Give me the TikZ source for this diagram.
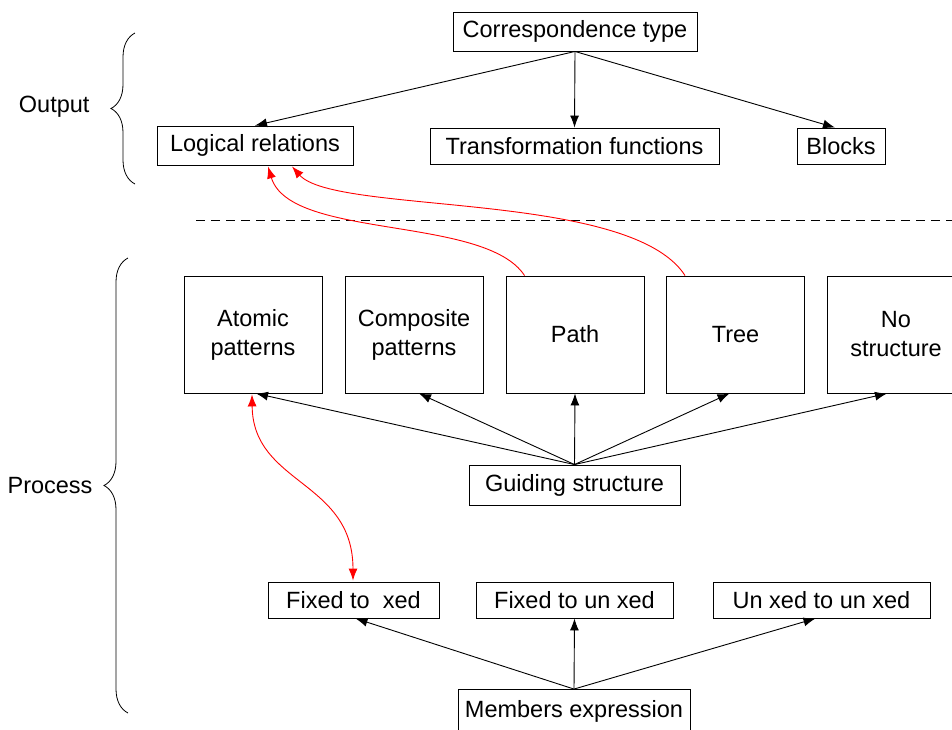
\documentclass[tikz,border=0pt]{standalone}
\usepackage{fontspec}
\setmainfont{Liberation Sans}
\usetikzlibrary{arrows.meta,decorations.pathreplacing,calc}
\begin{document}
\begin{tikzpicture}[x=1pt,y=-1pt,
  box/.style={draw,line width=0.9pt,inner sep=0pt,font=\fontsize{23.5}{29}\selectfont,align=center},
  arr/.style={line width=0.9pt,-{Latex[length=12pt,width=9pt]}},
  red arr/.style={draw=red,line width=0.9pt,-{Latex[length=12pt,width=9pt]}},
  lbl/.style={font=\fontsize{23.5}{29}\selectfont},
  brc/.style={decorate,decoration={brace,amplitude=24pt},line width=0.8pt}
]
\useasboundingbox (0,0) rectangle (952,729);
% Output level
\node[box,minimum width=244pt,minimum height=39pt] (corr) at (575,31.5) {Correspondence type};
\node[box,minimum width=196pt,minimum height=39pt] (logic) at (255,145.5) {Logical relations};
\node[box,minimum width=289pt,minimum height=36pt] (trans) at (574.5,146) {Transformation functions};
\node[box,minimum width=88pt,minimum height=36pt] (blocks) at (841,146) {Blocks};
\draw[arr] (corr.south) -- (logic.north);
\draw[arr] (corr.south) -- (trans.north);
\draw[arr] (corr.south) -- ($(blocks.north)+(-6,0)$);
% separator
\coordinate (sepL) at (196,220);
\coordinate (sepR) at (952,220);
\draw[dashed,dash pattern=on 9pt off 6pt,line width=0.8pt] (sepL) -- (sepR);
% Guiding structure level
\node[box,minimum width=138pt,minimum height=117pt] (atomic) at (253,334.5) {Atomic\\patterns};
\node[box,minimum width=138pt,minimum height=117pt] (comp) at (414,334.5) {Composite\\patterns};
\node[box,minimum width=138pt,minimum height=117pt] (path) at (575,334.5) {Path};
\node[box,minimum width=138pt,minimum height=117pt] (tree) at (735.5,334.5) {Tree};
\node[box,minimum width=138pt,minimum height=117pt] (nostr) at (896,334.5) {No\\structure};
\node[box,minimum width=211pt,minimum height=40pt] (guide) at (574.5,485) {Guiding structure};
\draw[arr] (guide.north) -- ($(atomic.south)+(3,0)$);
\draw[arr] (guide.north) -- ($(comp.south)+(5,0)$);
\draw[arr] (guide.north) -- (path.south);
\draw[arr] (guide.north) -- ($(tree.south)+(-6,0)$);
\draw[arr] (guide.north) -- ($(nostr.south)+(-9,0)$);
% Members level
\node[box,minimum width=171pt,minimum height=36pt] (ff) at (353.5,600) {Fixed to\ \ xed};
\node[box,minimum width=197pt,minimum height=36pt] (fu) at (574.5,600) {Fixed to un xed};
\node[box,minimum width=217pt,minimum height=36pt] (uu) at (821.5,600) {Un xed to un xed};
\node[box,minimum width=232pt,minimum height=43pt] (mem) at (574,711) {Members expression};
\draw[arr] (mem.north) -- ($(ff.south)+(2,0)$);
\draw[arr] (mem.north) -- (fu.south);
\draw[arr] (mem.north) -- ($(uu.south)+(-6,0)$);
% red connectors
\draw[red arr] ($(path.north west)+(19,0)$) .. controls (485,215) and (290,240) .. ($(logic.south)+(13,1)$);
\draw[red arr] ($(tree.north west)+(19,0)$) .. controls (630,190) and (335,215) .. ($(logic.south)+(37,1)$);
\draw[draw=red,line width=0.9pt,{Latex[length=12pt,width=9pt]}-{Latex[length=12pt,width=9pt]}] ($(atomic.south)+(-1,1)$) .. controls (253,485) and (353,480) .. ($(ff.north)+(-0.5,-1)$);
% braces and labels
\coordinate (ob1) at (135,184);
\coordinate (ob2) at (135,33);
\draw[brc] (ob1) -- (ob2);
\node[lbl,anchor=east] (outl) at (93,107) {Output};
\coordinate (pb1) at (128,713);
\coordinate (pb2) at (128,258);
\draw[brc] (pb1) -- (pb2);
\node[lbl,anchor=east] (procl) at (96,486) {Process};
\end{tikzpicture}
\end{document}
